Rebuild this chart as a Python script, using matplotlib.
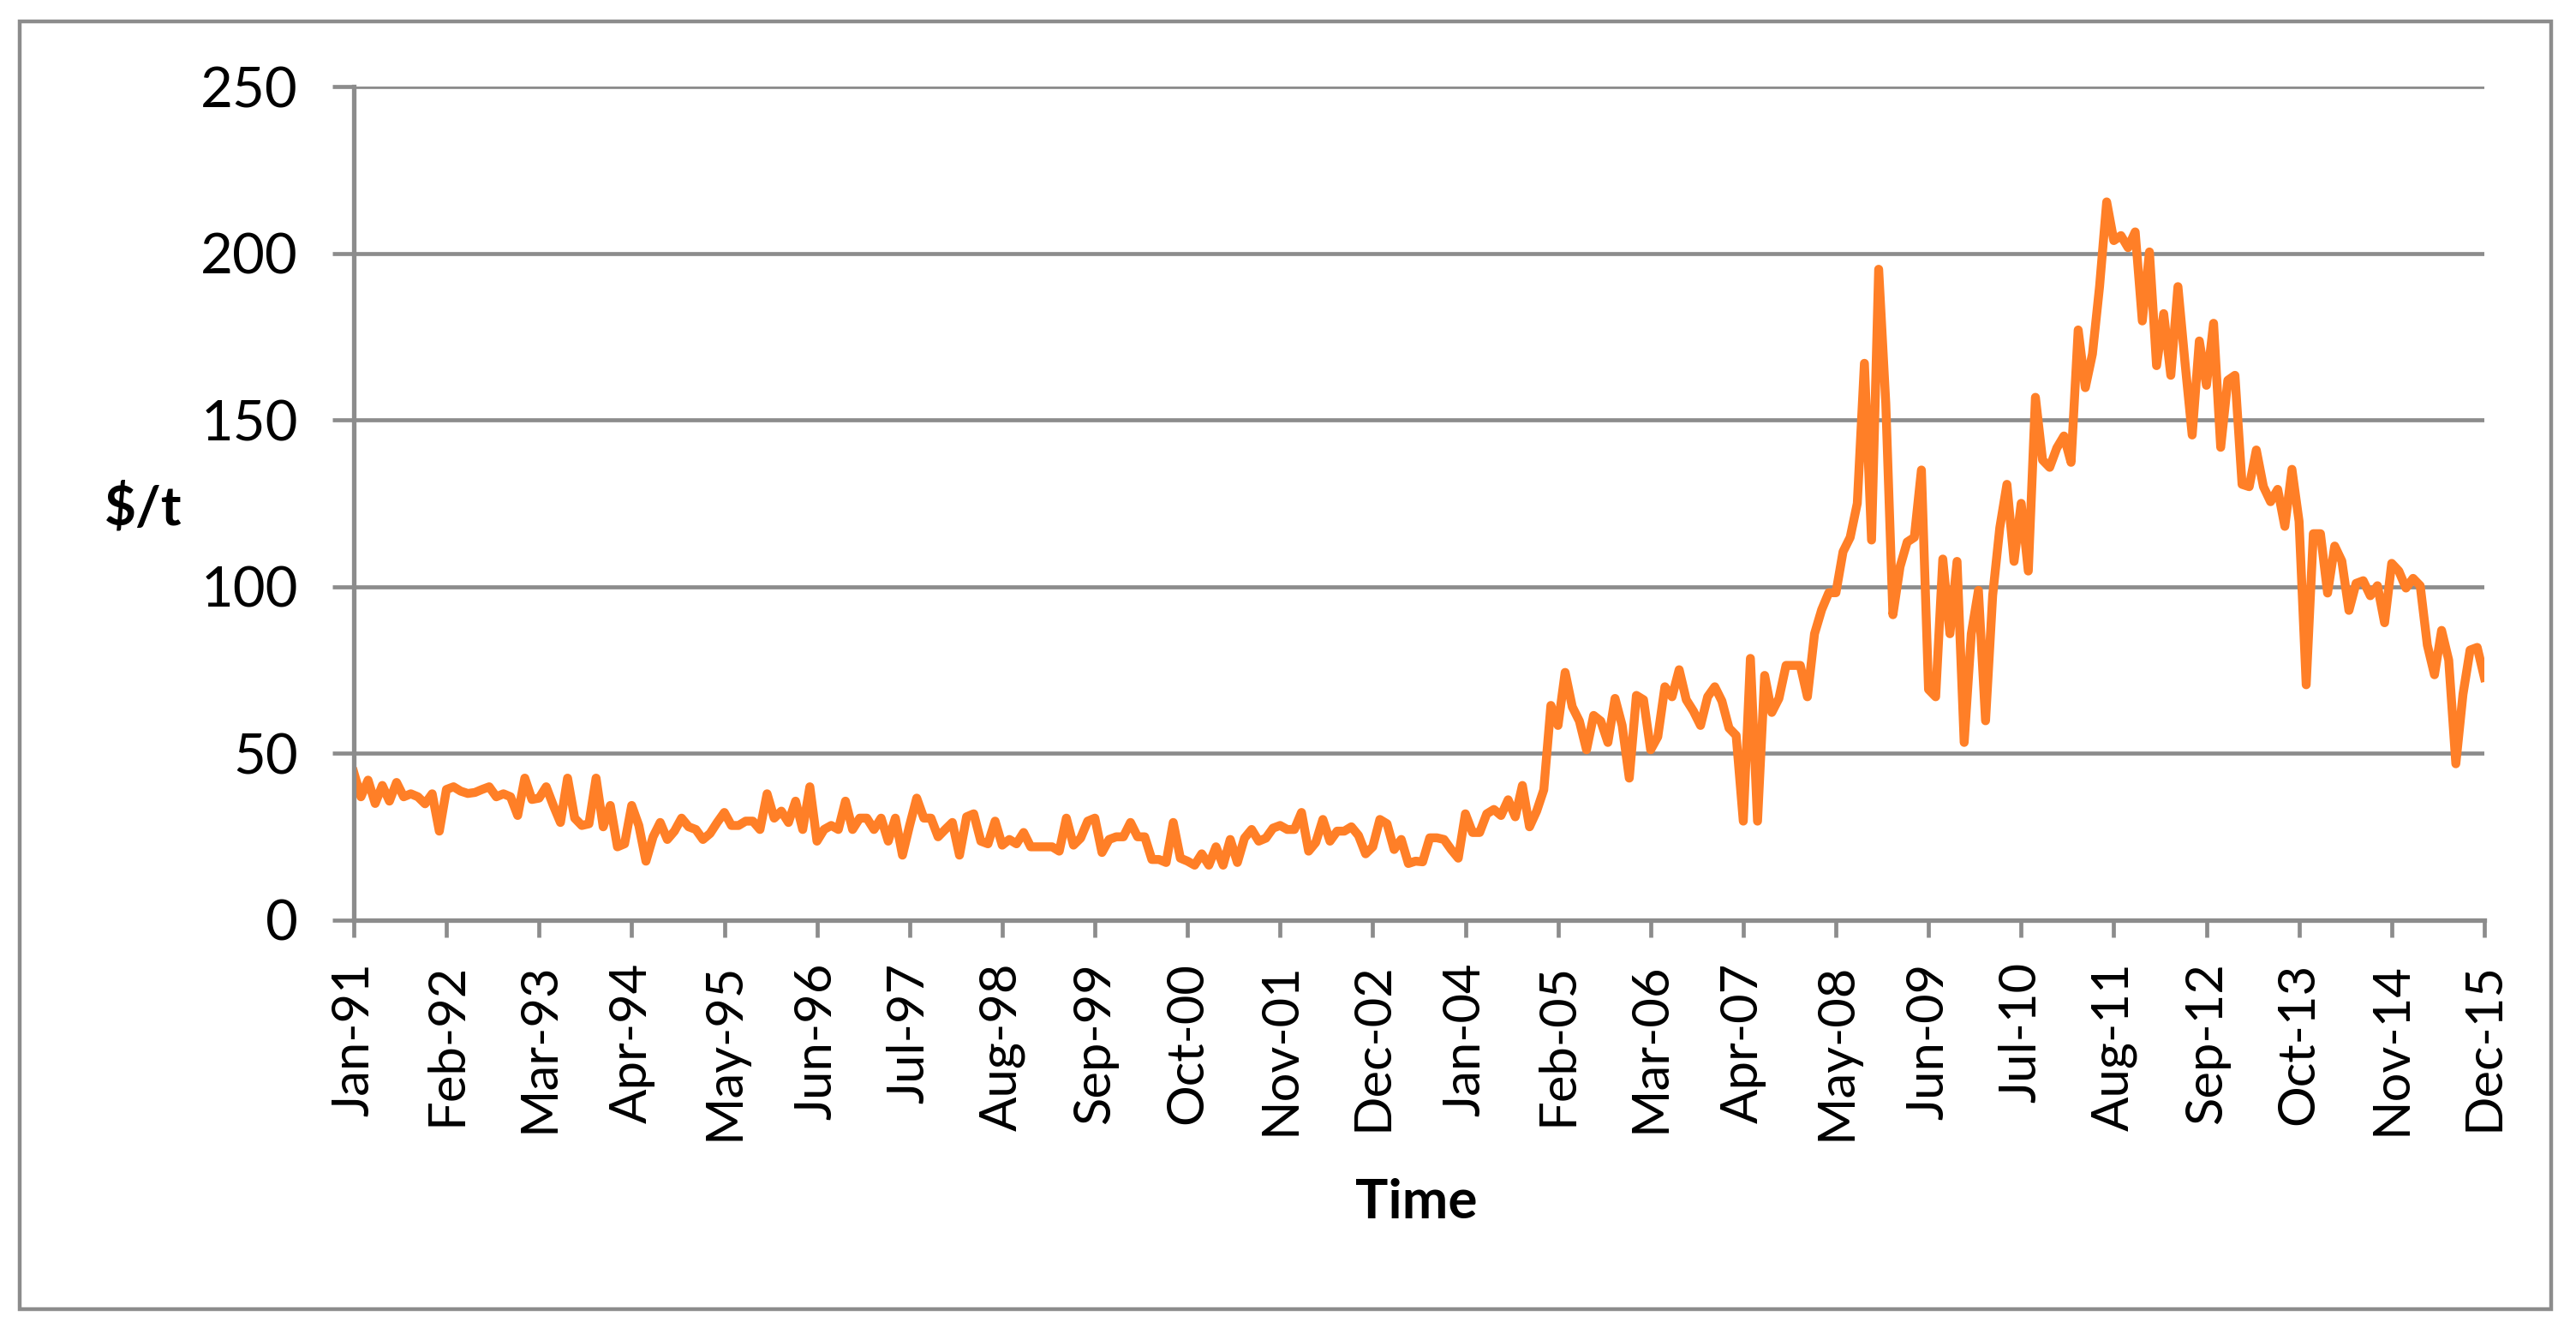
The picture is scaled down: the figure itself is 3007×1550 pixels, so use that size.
import matplotlib
matplotlib.use("Agg")
import matplotlib.pyplot as plt
from matplotlib.patches import Rectangle

# monthly price, Jan-91 .. Dec-15 ($/t)
price = [
    44.3, 37, 42, 35, 40.4, 35.7, 41.3, 37, 37.9, 37,
    34.9, 37.9, 26.7, 39.2, 40, 38.7, 38, 38.3, 39.2, 40,
    37, 37.9, 37, 31.4, 42.6, 36.2, 36.6, 40, 34.4, 29.3,
    42.6, 30.6, 28.4, 28.9, 42.6, 28, 34.4, 22, 22.9, 34.4,
    28.4, 17.7, 25, 29.3, 24.2, 26.7, 30.6, 28, 27.2, 24.2,
    26, 29.3, 32.3, 28.4, 28.4, 29.7, 29.7, 27.2, 37.9, 30.6,
    32.7, 29.3, 35.7, 27.2, 40, 23.7, 27.2, 28.4, 27.2, 35.7,
    27.2, 30.6, 30.6, 27.2, 30.6, 23.7, 30.6, 19.5, 28.4, 36.6,
    30.6, 30.6, 25, 27.2, 29.3, 19.5, 31, 31.9, 23.7, 22.9,
    29.7, 22.5, 24.2, 22.9, 26.3, 22, 22, 22, 22, 20.7,
    30.6, 22.5, 24.6, 29.7, 30.6, 20.3, 24.2, 25, 25, 29.3,
    25, 25, 18.2, 18.2, 17.3, 29.3, 18.6, 17.7, 16.5, 19.9,
    16.5, 22, 16.5, 24.2, 17.3, 24.6, 27.2, 23.7, 24.6, 27.6,
    28.4, 27.2, 27.2, 32.3, 20.7, 23.3, 30.2, 23.7, 26.7, 26.7,
    28, 25.4, 19.9, 22, 30.2, 28.9, 21.2, 24.2, 17, 17.7,
    17.5, 24.7, 24.7, 24.2, 21.2, 18.6, 31.9, 26.3, 26.3, 31.9,
    33.2, 31.4, 36.1, 31, 40.4, 28, 32.7, 39.1, 64.4, 58.4,
    74.3, 64, 59.7, 51.1, 61.4, 59.7, 53.3, 66.5, 58.4, 42.6,
    67.4, 66.1, 51.1, 55, 70, 67, 75.1, 66.1, 62.7, 58.4,
    67, 70, 65.7, 57.6, 55.4, 29.7, 78.5, 29.7, 73.4, 62.3,
    66.5, 76.4, 76.4, 76.4, 67, 85.9, 93.1, 98.2, 98.2, 110.5,
    114.8, 125, 167, 114, 195.2, 155, 91.6, 106, 113.4, 114.8,
    135, 69.2, 67, 108.3, 85.9, 107.6, 53.3, 85.9, 98.9, 59.8,
    97.4, 117.7, 130.7, 107.6, 125, 104.7, 156.8, 138, 135.8, 141.6,
    145.2, 137.3, 177, 159.7, 169.8, 190, 215.4, 203.8, 205.3, 201.7,
    206.4, 179.7, 200.4, 166.3, 181.9, 163.4, 190, 167, 145.5, 173.7,
    160.4, 179, 141.8, 161.9, 163.4, 130.7, 130, 141, 130, 125.5,
    129.2, 118.1, 135.2, 119.6, 70.6, 115.9, 115.9, 98.1, 112.2, 107.7,
    92.9, 101, 101.8, 97.3, 100.3, 89.2, 107, 104.7, 99.6, 102.5,
    100.3, 82.5, 73.6, 86.9, 78, 46.9, 67.7, 81, 81.8, 72.8,
]

tick_labels = ['Jan-91', 'Feb-92', 'Mar-93', 'Apr-94', 'May-95', 'Jun-96',
               'Jul-97', 'Aug-98', 'Sep-99', 'Oct-00', 'Nov-01', 'Dec-02',
               'Jan-04', 'Feb-05', 'Mar-06', 'Apr-07', 'May-08', 'Jun-09',
               'Jul-10', 'Aug-11', 'Sep-12', 'Oct-13', 'Nov-14', 'Dec-15']
tick_step = 13  # months between labels
y_ticks = [0, 50, 100, 150, 200, 250]

plt.rcParams['font.family'] = ['Lato', 'DejaVu Sans']
grey = '#8c8c8c'

fig = plt.figure(figsize=(30.07, 15.5), dpi=100)
ax = fig.add_axes([413 / 3007, 1 - 1074 / 1550, (2900 - 413) / 3007, (1074 - 101) / 1550])

months = list(range(len(price)))
ax.plot(months, price, color='#ff7f27', lw=7.5, solid_joinstyle='round', zorder=3)

ax.set_xlim(0, len(price) - 1)
ax.set_ylim(0, 250)
ax.set_xticks([i * tick_step for i in range(len(tick_labels))])
ax.set_xticklabels(tick_labels, rotation=90, fontsize=43)
ax.set_yticks(y_ticks)
ax.set_yticklabels([str(v) for v in y_ticks], fontsize=47)

ax.grid(axis='y', color=grey, lw=3.4)
ax.set_axisbelow(True)
for s in ['top', 'right']:
    ax.spines[s].set_visible(False)
for s in ['left', 'bottom']:
    ax.spines[s].set_color(grey)
    ax.spines[s].set_linewidth(3.8)
    ax.spines[s].set_zorder(4)
ax.tick_params(axis='y', direction='out', length=18, width=3.4, color=grey, pad=29)
ax.tick_params(axis='x', direction='out', length=14.5, width=3.4, color=grey, pad=21)

fig.text(167 / 3007, 1 - 593 / 1550, '$/t', fontsize=46, fontweight='bold',
         ha='center', va='center')
fig.text(1653 / 3007, 1 - 1404 / 1550, 'Time', fontsize=46, fontweight='bold',
         ha='center', va='center')

# outer chart border
fig.add_artist(Rectangle((23 / 3007, 1 - 1528 / 1550), (2978 - 23) / 3007, (1528 - 25) / 1550,
                         transform=fig.transFigure, fill=False, ec=grey, lw=3.2))

fig.savefig('out.png', dpi=100)
